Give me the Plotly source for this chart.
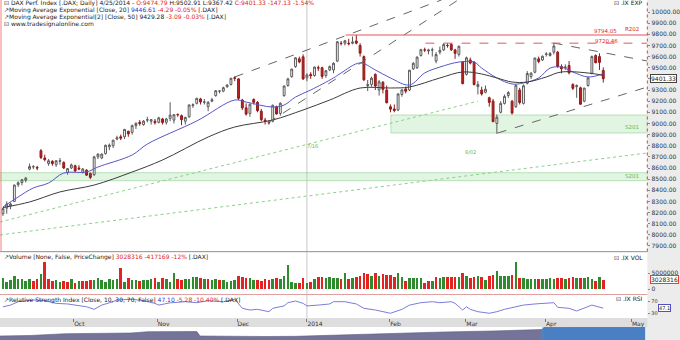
import plotly.graph_objects as go

# ---------------- data ----------------
open_ = [8190, 8240, 8260, 8300, 8450, 8470, 8490, 8590, 8610, 8605,
         8755, 8690, 8640, 8660, 8630, 8660, 8650, 8560, 8600, 8620,
         8600, 8560, 8580, 8550, 8540, 8700, 8690, 8730, 8790, 8800,
         8860, 8880, 8880, 8930, 8920, 8980, 9010, 8990, 9030, 9020,
         9020, 9010, 9040, 9010, 9045, 9030, 9080, 9070, 9020, 9060,
         9160, 9180, 9220, 9190, 9150, 9200, 9250, 9290, 9290, 9330,
         9350, 9410, 9400, 9210, 9140, 9090, 9215, 9190, 9110, 9030,
         9010, 9020, 9150, 9090, 9250, 9340, 9420, 9510, 9580, 9598,
         9410, 9440, 9430, 9500, 9500, 9430, 9480, 9480, 9560, 9720,
         9720, 9720, 9720, 9740, 9700, 9600, 9340, 9350, 9440, 9300,
         9370, 9300, 9150, 9130, 9120, 9260, 9310, 9300, 9490, 9500,
         9610, 9660, 9650, 9660, 9560, 9640, 9660, 9700, 9710, 9660,
         9620, 9550, 9440, 9570, 9550, 9330, 9300, 9280, 9230, 9200,
         9000, 9100, 9180, 9250, 9200, 9150, 9300, 9180, 9360, 9420,
         9460, 9580, 9570, 9620, 9610, 9640, 9640, 9510, 9500, 9520,
         9350, 9330, 9320, 9200, 9340, 9450, 9610, 9600, 9475]
high = [8245, 8300, 8290, 8450, 8480, 8500, 8520, 8640, 8625, 8620,
        8770, 8720, 8680, 8670, 8670, 8690, 8660, 8600, 8640, 8630,
        8625, 8600, 8590, 8560, 8710, 8730, 8730, 8810, 8820, 8850,
        8890, 8900, 8950, 8935, 8990, 9010, 9030, 9030, 9060, 9040,
        9040, 9060, 9050, 9050, 9190, 9080, 9090, 9080, 9060, 9170,
        9180, 9230, 9230, 9220, 9200, 9230, 9300, 9300, 9330, 9350,
        9410, 9424, 9405, 9220, 9180, 9180, 9225, 9200, 9130, 9050,
        9030, 9170, 9160, 9190, 9340, 9410, 9490, 9595, 9600, 9620,
        9450, 9460, 9510, 9520, 9510, 9480, 9520, 9550, 9740, 9740,
        9750, 9760, 9780, 9794, 9720, 9610, 9390, 9420, 9450, 9390,
        9380, 9340, 9170, 9170, 9270, 9310, 9330, 9480, 9550, 9600,
        9670, 9680, 9670, 9680, 9640, 9690, 9720, 9720, 9720, 9670,
        9700, 9560, 9600, 9590, 9560, 9380, 9330, 9340, 9240, 9220,
        9080, 9200, 9260, 9290, 9210, 9350, 9320, 9350, 9470, 9460,
        9590, 9600, 9610, 9640, 9640, 9720, 9650, 9530, 9530, 9560,
        9360, 9350, 9330, 9320, 9420, 9610, 9620, 9630, 9503]
low = [8170, 8190, 8230, 8295, 8430, 8445, 8470, 8580, 8590, 8580,
       8680, 8660, 8620, 8620, 8610, 8630, 8590, 8540, 8590, 8560,
       8580, 8550, 8530, 8500, 8530, 8680, 8680, 8720, 8760, 8780,
       8850, 8850, 8860, 8880, 8900, 8950, 8980, 8980, 9010, 8990,
       8990, 9000, 8990, 8990, 9020, 9000, 9060, 8985, 8990, 9050,
       9140, 9170, 9170, 9170, 9110, 9190, 9240, 9270, 9280, 9320,
       9340, 9380, 9210, 9120, 9070, 9060, 9170, 9100, 9020, 8990,
       8990, 9010, 9080, 9070, 9240, 9330, 9410, 9500, 9540, 9390,
       9380, 9400, 9420, 9470, 9400, 9410, 9470, 9450, 9550, 9700,
       9700, 9700, 9710, 9710, 9600, 9380, 9290, 9330, 9300, 9250,
       9270, 9180, 9100, 9100, 9110, 9240, 9270, 9290, 9480, 9490,
       9600, 9640, 9620, 9600, 9540, 9620, 9650, 9680, 9650, 9580,
       9600, 9350, 9430, 9530, 9340, 9260, 9250, 9270, 9150, 9010,
       8907, 9090, 9170, 9230, 9080, 9140, 9170, 9170, 9350, 9400,
       9450, 9540, 9560, 9600, 9600, 9620, 9500, 9450, 9480, 9440,
       9300, 9230, 9165, 9190, 9330, 9440, 9540, 9480, 9367]
close = [8235, 8276, 8276, 8447, 8468, 8495, 8509, 8613, 8612, 8600,
         8694, 8675, 8665, 8640, 8665, 8665, 8600, 8594, 8628, 8574,
         8592, 8591, 8536, 8516, 8700, 8725, 8725, 8804, 8806, 8850,
         8870, 8868, 8947, 8906, 8980, 9001, 8999, 9021, 9033, 9034,
         9007, 9050, 9009, 9040, 9075, 9079, 9078, 9034, 9054, 9166,
         9168, 9225, 9193, 9193, 9190, 9213, 9294, 9291, 9321, 9345,
         9405, 9405, 9225, 9140, 9084, 9172, 9190, 9115, 9034, 9017,
         9006, 9163, 9085, 9181, 9336, 9400, 9488, 9589, 9552, 9400,
         9435, 9428, 9506, 9497, 9422, 9473, 9510, 9540, 9733, 9717,
         9742, 9715, 9730, 9720, 9631, 9392, 9349, 9406, 9336, 9374,
         9306, 9186, 9128, 9116, 9265, 9301, 9289, 9478, 9540, 9596,
         9662, 9660, 9659, 9660, 9618, 9656, 9708, 9699, 9661, 9629,
         9692, 9358, 9589, 9542, 9350, 9350, 9265, 9307, 9189, 9017,
         9056, 9180, 9243, 9277, 9093, 9342, 9188, 9338, 9448, 9451,
         9587, 9556, 9603, 9623, 9628, 9695, 9510, 9490, 9506, 9455,
         9315, 9339, 9173, 9317, 9409, 9600, 9545, 9548, 9401.33]
volume_mn = [3.43, 2.39, 2.91, 4.16, 3.12, 3.12, 2.70, 3.12, 2.70, 3.12,
             4.78, 8.63, 3.12, 2.70, 2.91, 2.39, 2.70, 2.39, 3.12, 1.87,
             2.70, 2.70, 2.60, 2.91, 2.91, 3.43, 2.91, 2.39, 3.12, 2.91,
             3.12, 6.55, 2.39, 3.64, 2.91, 2.91, 2.60, 2.91, 2.91, 3.12,
             3.43, 2.39, 3.43, 3.12, 2.39, 4.99, 3.12, 2.91, 3.12, 3.12,
             3.74, 3.74, 3.43, 3.12, 3.12, 2.91, 3.12, 2.91, 2.91, 2.39,
             2.70, 2.91, 4.16, 3.95, 3.43, 3.43, 2.91, 2.91, 2.70, 3.12,
             2.91, 3.12, 3.43, 3.12, 4.16, 7.59, 2.39, 2.08, 2.08, 3.43,
             2.08, 2.39, 3.12, 3.74, 3.95, 3.43, 3.74, 3.43,
             3.43, 3.12, 5.20, 3.12, 3.43, 3.95, 4.16, 5.20, 4.78, 4.16,
             5.20, 4.16, 4.78, 4.47, 4.37, 3.95, 4.99, 3.95, 2.70, 3.43,
             3.43, 3.43, 3.43, 1.87, 2.60, 2.70, 3.95, 3.43, 3.74, 3.95,
             3.74, 3.95, 3.74, 4.99, 4.16, 3.43, 3.74, 4.16, 3.95, 2.91,
             4.16, 4.47, 5.72, 4.16, 4.16, 4.16, 4.47, 8.63, 3.43, 3.43,
             3.12, 3.12, 3.12, 3.12, 3.12, 3.12, 3.43, 3.12, 3.43, 3.43,
             3.12, 3.43, 3.74, 3.43, 3.43, 3.43, 3.74, 3.12, 2.70, 3.74,
             3.028316]

ema20_bar = [0, 4, 8, 12, 16, 22, 25, 34, 38, 51, 61, 64, 71, 74, 77, 81, 87, 89,
             94, 98, 102, 107, 111, 115, 120, 124, 126, 130, 134, 137, 141, 144,
             147, 150, 154, 158]
ema20_val = [8250, 8340, 8421, 8465, 8555, 8564, 8609, 8717, 8815, 9022, 9210, 9192,
             9147, 9165, 9237, 9300, 9408, 9453, 9543, 9480, 9408, 9345, 9453, 9506,
             9551, 9551, 9497, 9408, 9354, 9363, 9408, 9497, 9506, 9462, 9417, 9446.61]
ema50_bar = [0, 7, 15, 24, 34, 42, 54, 61, 71, 79, 86, 94, 102, 107, 115, 121, 126,
             130, 134, 138, 143, 147, 156, 158]
ema50_val = [8245, 8295, 8385, 8447, 8564, 8672, 8878, 8968, 9031, 9121, 9210, 9318,
             9318, 9327, 9408, 9462, 9444, 9408, 9372, 9372, 9417, 9462, 9444, 9429.28]

rsi_bar = [0, 2, 4, 8, 11, 14, 17, 19, 22, 24, 26, 28, 30, 34, 37, 40, 41, 44, 48,
           51, 54, 58, 61, 63, 65, 67, 70, 71, 74, 75, 77, 79, 80, 83, 86, 87, 90,
           93, 95, 98, 100, 102, 105, 107, 110, 113, 115, 118, 119, 121, 122, 123,
           125, 128, 130, 132, 135, 137, 140, 143, 145, 146, 149, 151, 153, 155, 158]
rsi_val = [52, 58, 70, 76, 73.5, 64, 62, 58, 52, 43, 58, 66, 76, 78.5, 73.5, 64, 58,
           66, 70, 66.5, 73.5, 70, 78.5, 46.6, 40.6, 43, 34.6, 46.6, 55, 66.5, 72.5,
           64, 55, 58, 62, 70, 70, 62, 46.6, 40.6, 34.6, 29, 43, 58, 66.5, 70, 66.5,
           70, 64, 40.6, 52, 43, 34.6, 29, 34.6, 43, 52, 58, 62, 64, 66.5, 50, 46.6,
           37, 46.6, 58, 47.1]

month_tick_bar = [18.6, 40.6, 61.6, 80.0, 101.8, 121.8, 142.8, 165.4]
month_tick_text = ["Oct", "Nov", "Dec", "2014", "Feb", "Mar", "Apr", "May"]
price_ticks = [7900, 8000, 8100, 8200, 8300, 8400, 8500, 8600, 8700, 8800, 8900,
               9000, 9100, 9200, 9300, 9400, 9500, 9600, 9700, 9800, 9900, 10000]
price_grid = [8000, 8500, 9000, 9500, 10000]

# navigator (overview of the long history), position in % of the strip, level
nav_pos = [0, 4.6, 10.2, 15.3, 20.3, 22.9, 29, 30.5, 31, 35.1, 41.2, 45.8, 51.9,
           61.1, 68.7, 76.3, 84.0]
nav_level = [4, 4.5, 6.3, 6.7, 7, 8.3, 9, 8.5, 4, 3.7, 3.5, 3.7, 5, 6.5, 8, 9, 10.5]
nav_sel_pos = [84.0, 84.3, 91.6, 100]
nav_sel_level = [10.5, 12.5, 12.7, 12.7]

# drawn studies: trendlines (bar, price) pairs, horizontal levels, zones
trend_dash = [((61, 9417), (115.4, 10108)), ((69.7, 9004), (119.8, 10108)),
              ((144.9, 9722), (169.6, 9560)), ((130.2, 8914), (169.6, 9327))]
trend_green = [((-0.8, 8115), (125, 9200)), ((-0.8, 7999), (169.6, 8735))]
level_solid = (90.2, 9794.05)
level_dash = (111.2, 9720.46)
zones = [((-0.8, 169.6), (8486, 8558)), ((102.1, 169.6), (8914, 9076))]

# ---------------- figure ----------------
bars = list(range(len(close)))
XR = [-0.78, 169.6]
XD = [0, 657 / 680]
H = 340.0

def py(p):  # paper y from pixel row
    return 1 - p / H

up_col, dn_col = "#2e8b2e", "#e32222"
vol_colors = [up_col] + [up_col if close[i] >= close[i - 1] else dn_col for i in range(1, len(close))]

fig = go.Figure()
fig.add_trace(go.Candlestick(
    x=bars, open=open_, high=high, low=low, close=close, xaxis="x", yaxis="y",
    increasing=dict(line=dict(color="#5a5a5a", width=1), fillcolor="white"),
    decreasing=dict(line=dict(color="#8e1b1b", width=1), fillcolor="#c42222"),
    whiskerwidth=0, showlegend=False, hoverinfo="skip"))
fig.add_trace(go.Scatter(x=ema20_bar, y=ema20_val, mode="lines", line=dict(color="#5656c8", width=1, shape="spline"),
                         xaxis="x", yaxis="y", showlegend=False, hoverinfo="skip"))
fig.add_trace(go.Scatter(x=ema50_bar, y=ema50_val, mode="lines", line=dict(color="#3c3c3c", width=1, shape="spline"),
                         xaxis="x", yaxis="y", showlegend=False, hoverinfo="skip"))
fig.add_trace(go.Bar(x=bars, y=[v * 1e6 for v in volume_mn], marker=dict(color=vol_colors, line=dict(width=0)),
                     width=0.7, xaxis="x2", yaxis="y2", showlegend=False, hoverinfo="skip"))
fig.add_trace(go.Scatter(x=rsi_bar, y=rsi_val, mode="lines", line=dict(color="#7c7cd8", width=1),
                         xaxis="x3", yaxis="y3", showlegend=False, hoverinfo="skip"))
fig.add_trace(go.Scatter(x=nav_pos, y=nav_level, mode="lines", fill="tozeroy", fillcolor="#74749a",
                         line=dict(color="#5c5c80", width=0.6), xaxis="x4", yaxis="y4",
                         showlegend=False, hoverinfo="skip"))
fig.add_trace(go.Scatter(x=nav_sel_pos, y=nav_sel_level, mode="lines", fill="tozeroy", fillcolor="#4a7fc4",
                         line=dict(color="#3a6fb4", width=0.6), xaxis="x4", yaxis="y4",
                         showlegend=False, hoverinfo="skip"))

axfont = dict(family="DejaVu Sans", size=6, color="#333")
common_x = dict(range=XR, domain=XD, showgrid=False, zeroline=False, showticklabels=False, ticks="")
fig.update_layout(
    width=680, height=340, margin=dict(l=0, r=0, t=0, b=0),
    paper_bgcolor="#ececec", plot_bgcolor="white",
    font=axfont, bargap=0, dragmode=False,
    xaxis=dict(**common_x, anchor="y", rangeslider=dict(visible=False)),
    yaxis=dict(domain=[py(251), 1], range=[7855, 10108], side="right", anchor="x",
               tickvals=price_ticks, ticktext=[f"{v:.2f}" for v in price_ticks],
               ticks="outside", ticklen=2, tickcolor="#888", showgrid=False, zeroline=False,
               tickfont=axfont),
    yaxis5=dict(domain=[py(251), 1], range=[7855, 10108], overlaying="y", anchor="x",
                tickvals=price_grid, showticklabels=False, showgrid=True, gridcolor="#dcdcdc",
                gridwidth=1, zeroline=False, ticks=""),
    xaxis2=dict(**common_x, anchor="y2", matches="x"),
    yaxis2=dict(domain=[py(294), py(253)], range=[-1.47e6, 11.3e6], side="right", anchor="x2",
                tickvals=[0, 5000000], ticktext=["0", "5000000"], ticks="outside", ticklen=2,
                tickcolor="#888", showgrid=False, zeroline=False, tickfont=axfont),
    xaxis3=dict(range=XR, domain=XD, anchor="y3", matches="x", showgrid=False, zeroline=False,
                tickvals=month_tick_bar, ticktext=month_tick_text, ticks="outside", ticklen=3,
                tickcolor="#777", ticklabelposition="outside right", tickfont=axfont),
    yaxis3=dict(domain=[py(318), py(295)], range=[12.3, 93.7], side="right", anchor="x3",
                tickvals=[30, 70], ticktext=["30", "70"], ticks="outside", ticklen=2,
                tickcolor="#888", showgrid=False, zeroline=False, tickfont=dict(family="DejaVu Sans", size=5, color="#333")),
    xaxis4=dict(domain=[0, 655 / 680], range=[0, 100], anchor="y4", showgrid=False, zeroline=False,
                showticklabels=False, ticks=""),
    yaxis4=dict(domain=[0, py(327)], range=[0, 13], anchor="x4", showgrid=False, zeroline=False,
                showticklabels=False, ticks=""),
)

shapes = []
# date strip background
shapes.append(dict(type="rect", xref="paper", yref="paper", x0=0, x1=XD[1], y0=py(327), y1=py(318),
                   fillcolor="#dedede", line=dict(width=0), layer="below"))
# zones
for (x0, x1), (y0, y1) in zones:
    shapes.append(dict(type="rect", xref="x", yref="y", x0=x0, x1=x1, y0=y0, y1=y1,
                       fillcolor="rgba(150,215,150,0.28)", line=dict(color="rgba(120,200,120,0.6)", width=0.8),
                       layer="below"))
# year separator
shapes.append(dict(type="line", xref="x", yref="paper", x0=80.0, x1=80.0, y0=py(318), y1=1,
                   line=dict(color="#c8c8c8", width=1), layer="below"))
# trendlines
for (a, b) in trend_dash:
    shapes.append(dict(type="line", xref="x", yref="y", x0=a[0], y0=a[1], x1=b[0], y1=b[1],
                       line=dict(color="#666", width=1, dash="dash")))
for (a, b) in trend_green:
    shapes.append(dict(type="line", xref="x", yref="y", x0=a[0], y0=a[1], x1=b[0], y1=b[1],
                       line=dict(color="#8ccf8c", width=1, dash="dot"), layer="below"))
shapes.append(dict(type="line", xref="x", yref="y", x0=level_solid[0], x1=XR[1], y0=level_solid[1],
                   y1=level_solid[1], line=dict(color="#e8555a", width=1.2)))
shapes.append(dict(type="line", xref="x", yref="y", x0=level_dash[0], x1=XR[1], y0=level_dash[1],
                   y1=level_dash[1], line=dict(color="#e8555a", width=1, dash="dash")))
# panel borders (main panel highlighted in red)
shapes.append(dict(type="line", xref="paper", yref="paper", x0=0.0015, x1=0.0015, y0=py(251.5), y1=1,
                   line=dict(color="#f08080", width=1)))
shapes.append(dict(type="line", xref="paper", yref="paper", x0=0, x1=XD[1], y0=py(251.5), y1=py(251.5),
                   line=dict(color="#f08080", width=1)))
shapes.append(dict(type="line", xref="paper", yref="paper", x0=XD[1], x1=XD[1], y0=py(251.5), y1=1,
                   line=dict(color="#e04040", width=1, dash="dot")))
shapes.append(dict(type="line", xref="paper", yref="paper", x0=0, x1=XD[1], y0=py(294.5), y1=py(294.5),
                   line=dict(color="#e0a0a0", width=1)))
# navigator selection
shapes.append(dict(type="rect", xref="x4", yref="paper", x0=84.0, x1=100, y0=0, y1=py(327),
                   fillcolor="#a9c9ee", line=dict(width=0), layer="below"))
fig.update_layout(shapes=shapes)

RED = "#e02424"
BLUE = "#3030d0"
ann = []
def txt(x, y, s, color="#222", size=6, anchor="left", **kw):
    ann.append(dict(xref="paper", yref="paper", x=x / 680, y=py(y), text=s, showarrow=False,
                    xanchor=anchor, yanchor="middle", font=dict(family="DejaVu Sans", size=size, color=color), **kw))

txt(2, 3, "⊡ DAX Perf. Index [.DAX; Daily] 4/25/2014 - <span style='color:%s'>O:9474.79</span> H:9502.91 L:9367.42 "
          "<span style='color:%s'>C:9401.33 -147.13 -1.54%%</span>" % (RED, RED))
txt(2, 10, "↗Moving Average Exponential [Close, 20] <span style='color:%s'>9446.61</span> "
           "<span style='color:%s'>-4.29 -0.05%%</span> [.DAX]" % (BLUE, RED))
txt(2, 17, "↗Moving Average Exponential[2] [Close, 50] 9429.28 "
           "<span style='color:%s'>-3.09 -0.03%%</span> [.DAX]" % RED)
txt(2, 24, "⊡ www.tradesignalonline.com")
txt(2, 257, "↗Volume [None, False, PriceChange] <span style='color:%s'>3028316 -417169 -12%%</span> [.DAX]" % RED)
txt(2, 300, "↗Relative Strength Index [Close, 10, 30, 70, False] <span style='color:%s'>47.10</span> "
            "<span style='color:%s'>-5.28 -10.40%%</span> [.DAX]" % (BLUE, RED))
txt(655, 3, "⊡ .IX EXP", anchor="right")
txt(655, 257, "⊡ .IX VOL", anchor="right")
txt(655, 298, "⊡ .IX RSI", anchor="right")
txt(601, 31, "9794.05", color=RED, size=5.5)
txt(602, 41, "9720.46", color=RED, size=5.5)
txt(632, 29, "R202", color=RED, size=5.5)
txt(632, 127, "S201", color="#5cb85c", size=5.5)
txt(632, 176, "S201", color="#5cb85c", size=5.5)
txt(310, 146, "7/16", color="#5cb85c", size=5)
txt(470, 152, "8/02", color="#5cb85c", size=5)
fig.update_layout(annotations=ann)

# current-value boxes on the value scales
fig.add_annotation(xref="paper", yref="y", x=660 / 680, y=close[-1], text=f"{close[-1]:.2f}", showarrow=False,
                   xanchor="left", font=dict(family="DejaVu Sans", size=6, color="#222"),
                   bgcolor="white", bordercolor="#444", borderwidth=1, borderpad=0)
fig.add_annotation(xref="paper", yref="y2", x=660 / 680, y=volume_mn[-1] * 1e6, text="3028316", showarrow=False,
                   xanchor="left", font=dict(family="DejaVu Sans", size=6, color="#222"),
                   bgcolor="white", bordercolor="#e04040", borderwidth=1, borderpad=0)
fig.add_annotation(xref="paper", yref="y3", x=668 / 680, y=rsi_val[-1], text="47.1", showarrow=False,
                   xanchor="left", font=dict(family="DejaVu Sans", size=5, color="#222"),
                   bgcolor="white", bordercolor="#5050c0", borderwidth=1, borderpad=0)

fig.write_html("out.html")
